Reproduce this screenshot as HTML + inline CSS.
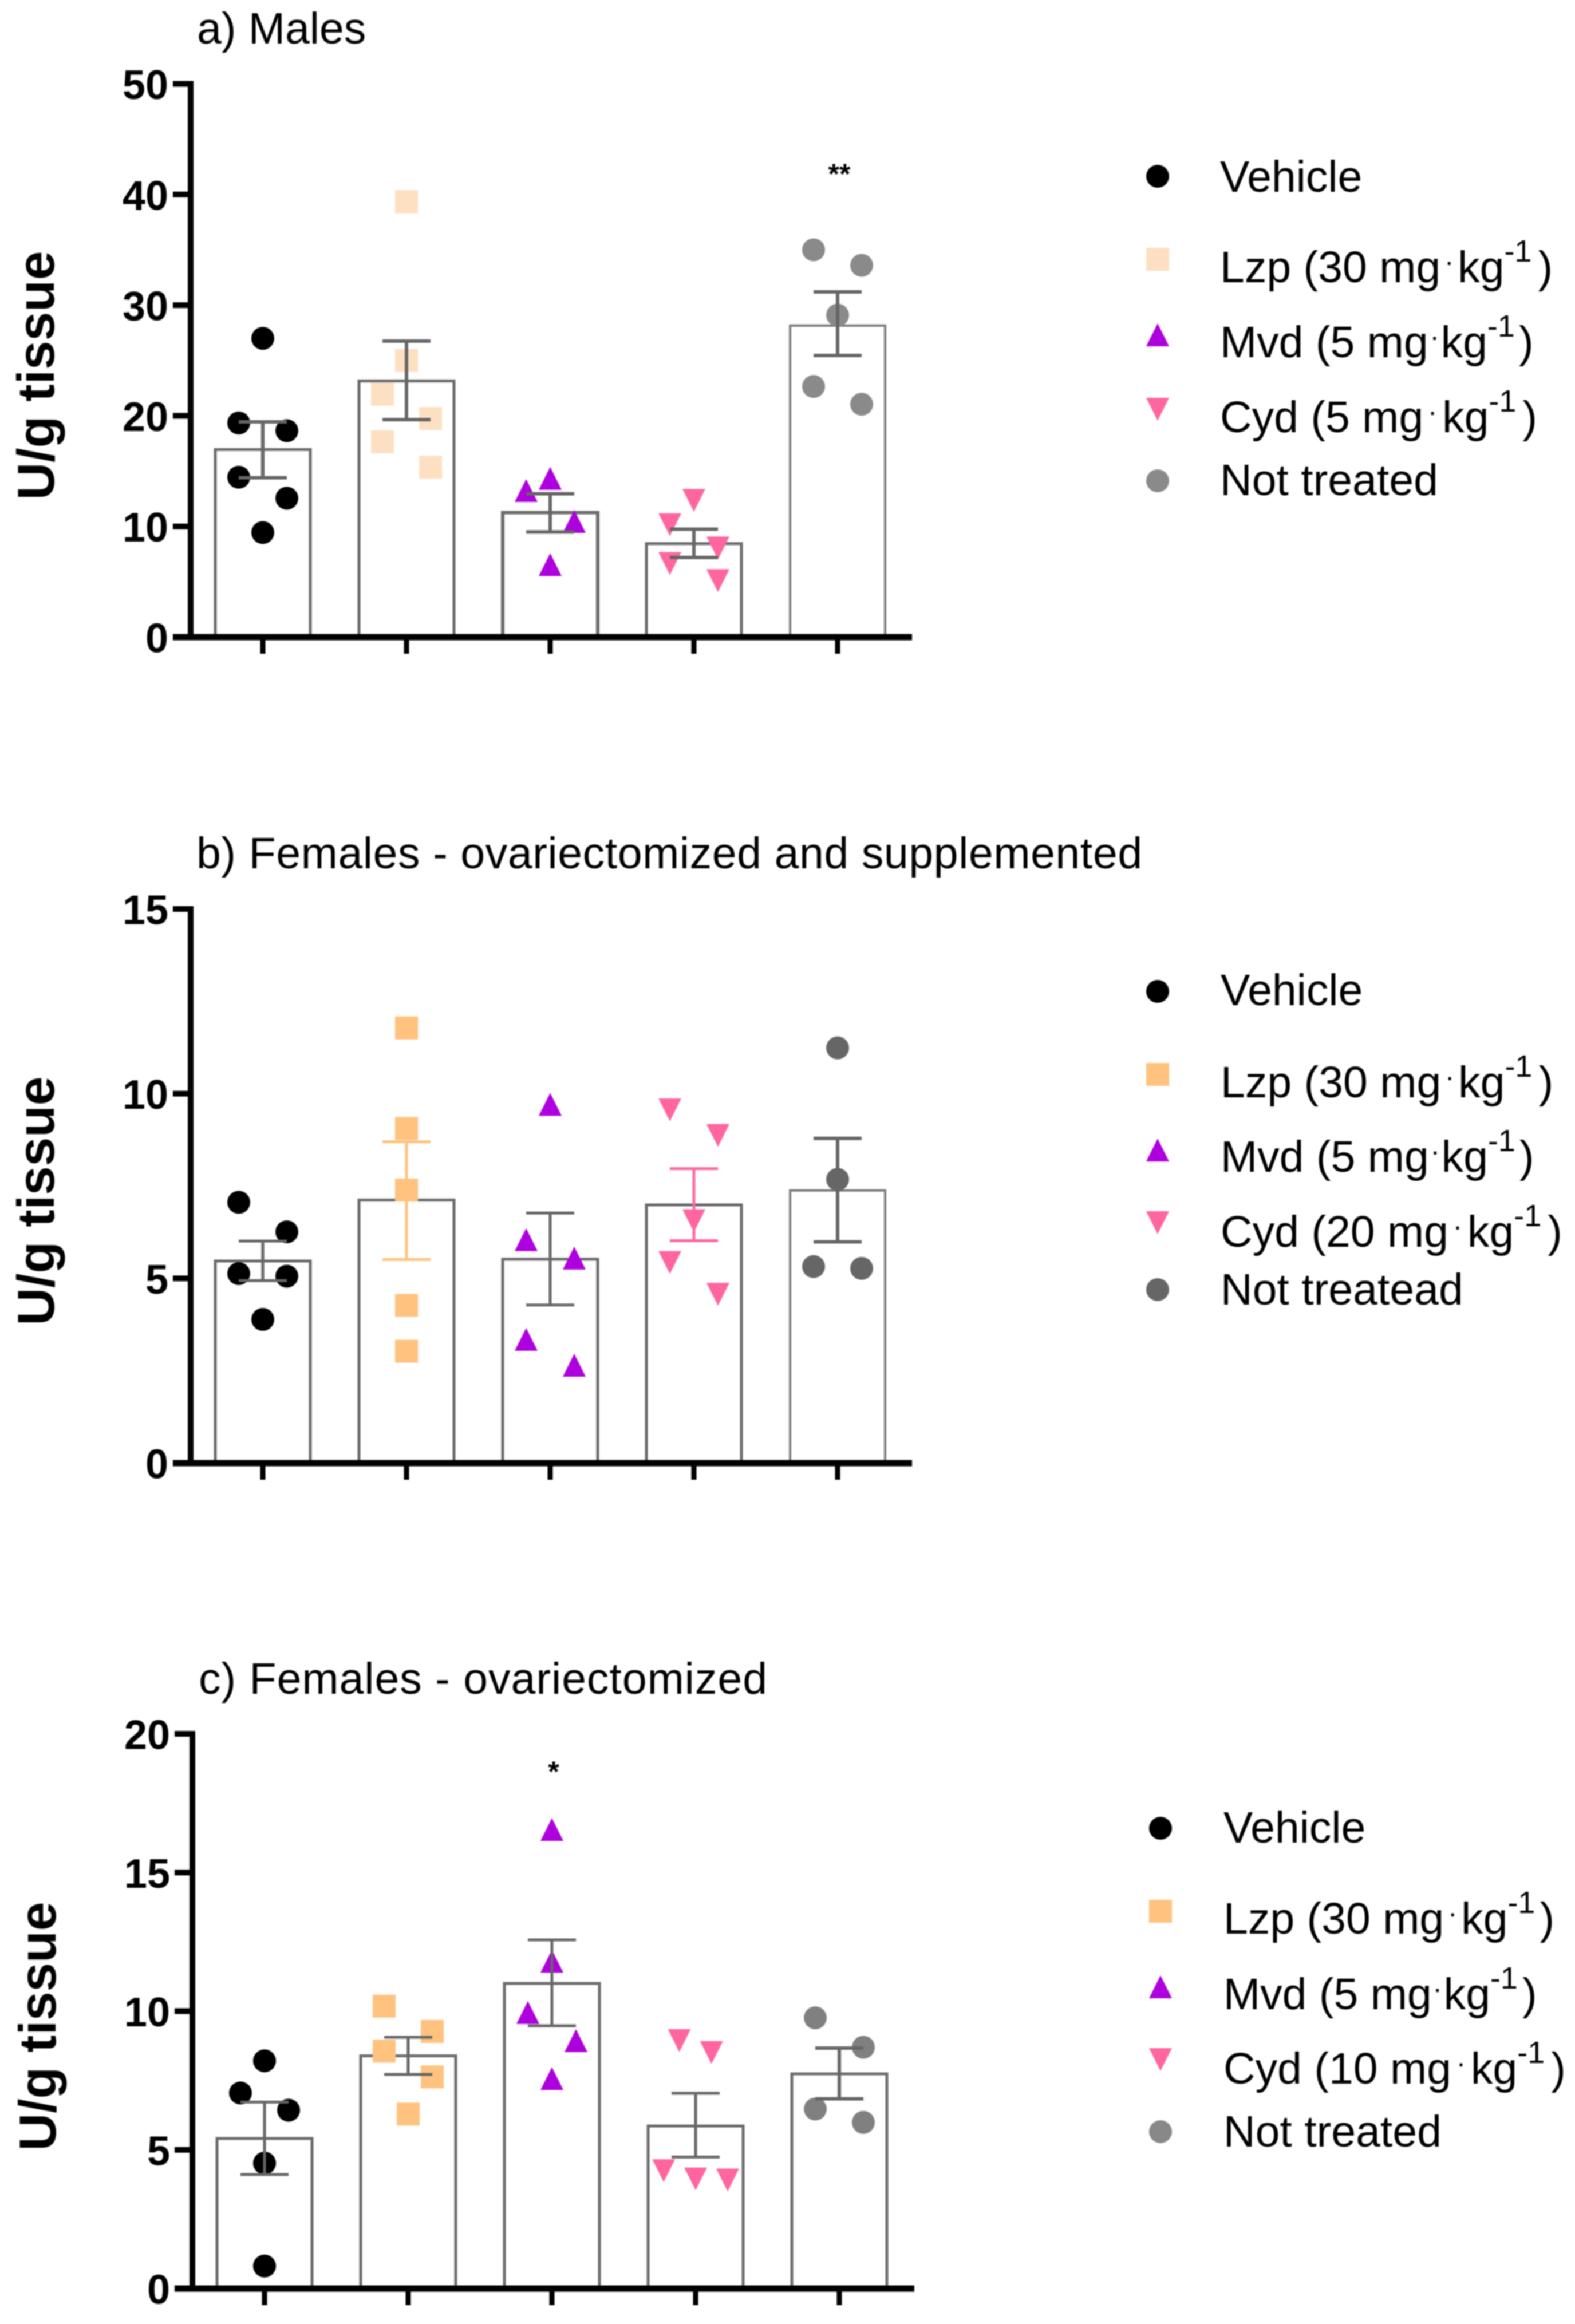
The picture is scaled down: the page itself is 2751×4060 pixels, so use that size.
<!DOCTYPE html>
<html lang="en">
<head>
<meta charset="utf-8">
<title>Enzyme activity by treatment</title>
<style>
html,body{margin:0;padding:0;background:#fff;}
svg{display:block;filter:blur(1px);}
text{font-family:"Liberation Sans",Arial,sans-serif;fill:#000;}
.title{font-size:77px;}
.legend{font-size:77px;}
.tick{font-size:72px;font-weight:bold;text-anchor:end;}
.ytitle{font-size:91px;font-weight:bold;text-anchor:middle;}
.star{font-size:50px;font-weight:bold;text-anchor:middle;}
</style>
</head>
<body>
<svg id="chart" xmlns="http://www.w3.org/2000/svg" width="2751" height="4060" viewBox="0 0 2751 4060">
  <rect x="0" y="0" width="2751" height="4060" fill="#fff"/>

  <text class="title" x="344" y="76">a) Males</text>
  <text class="title" x="343" y="1517" letter-spacing="0.6">b) Females - ovariectomized and supplemented</text>
  <text class="title" x="347" y="2959" letter-spacing="1">c) Females - ovariectomized</text>

  <g>
    <circle cx="2022" cy="308" r="20" fill="#000"/>
    <text class="legend" x="2131" y="335">Vehicle</text>
    <rect x="2002" y="433" width="40" height="40" fill="#fde0c2"/>
    <text class="legend" x="2131" y="493">Lzp (30 mg<tspan dy="-30" dx="8" font-size="50">.</tspan><tspan dy="30" dx="8">kg</tspan><tspan dy="-36" font-size="54">-1</tspan><tspan dy="36" dx="11">)</tspan></text>
    <polygon points="2022,565 2042,605 2002,605" fill="#ae00de"/>
    <text class="legend" x="2131" y="624">Mvd (5 mg<tspan dy="-30" dx="4" font-size="50">.</tspan><tspan dy="30" dx="4">kg</tspan><tspan dy="-36" font-size="54">-1</tspan><tspan dy="36" dx="7">)</tspan></text>
    <polygon points="2002,695 2042,695 2022,735" fill="#ff66a0"/>
    <text class="legend" x="2131" y="755">Cyd (5 mg<tspan dy="-30" dx="9" font-size="50">.</tspan><tspan dy="30" dx="10">kg</tspan><tspan dy="-36" font-size="54">-1</tspan><tspan dy="36" dx="11">)</tspan></text>
    <circle cx="2022" cy="840" r="20" fill="#8a8a8a"/>
    <text class="legend" x="2131" y="865">Not treated</text>
  </g>

  <g>
    <circle cx="2022" cy="1732" r="20" fill="#000"/>
    <text class="legend" x="2132" y="1756">Vehicle</text>
    <rect x="2002" y="1857" width="40" height="40" fill="#ffc27f"/>
    <text class="legend" x="2132" y="1917">Lzp (30 mg<tspan dy="-30" dx="8" font-size="50">.</tspan><tspan dy="30" dx="8">kg</tspan><tspan dy="-36" font-size="54">-1</tspan><tspan dy="36" dx="11">)</tspan></text>
    <polygon points="2022,1989 2042,2029 2002,2029" fill="#ae00de"/>
    <text class="legend" x="2132" y="2047">Mvd (5 mg<tspan dy="-30" dx="4" font-size="50">.</tspan><tspan dy="30" dx="4">kg</tspan><tspan dy="-36" font-size="54">-1</tspan><tspan dy="36" dx="7">)</tspan></text>
    <polygon points="2002,2116 2042,2116 2022,2156" fill="#ff66a0"/>
    <text class="legend" x="2132" y="2178">Cyd (20 mg<tspan dy="-30" dx="9" font-size="50">.</tspan><tspan dy="30" dx="10">kg</tspan><tspan dy="-36" font-size="54">-1</tspan><tspan dy="36" dx="11">)</tspan></text>
    <circle cx="2022" cy="2253" r="20" fill="#666"/>
    <text class="legend" x="2132" y="2279">Not treatead</text>
  </g>

  <g>
    <circle cx="2027" cy="3194" r="20" fill="#000"/>
    <text class="legend" x="2137" y="3219">Vehicle</text>
    <rect x="2007" y="3319" width="40" height="40" fill="#ffc27f"/>
    <text class="legend" x="2137" y="3378">Lzp (30 mg<tspan dy="-30" dx="8" font-size="50">.</tspan><tspan dy="30" dx="8">kg</tspan><tspan dy="-36" font-size="54">-1</tspan><tspan dy="36" dx="8">)</tspan></text>
    <polygon points="2027,3451 2047,3491 2007,3491" fill="#ae00de"/>
    <text class="legend" x="2137" y="3510">Mvd (5 mg<tspan dy="-30" dx="3" font-size="50">.</tspan><tspan dy="30" dx="4">kg</tspan><tspan dy="-36" font-size="54">-1</tspan><tspan dy="36" dx="8">)</tspan></text>
    <polygon points="2007,3578 2047,3578 2027,3618" fill="#ff66a0"/>
    <text class="legend" x="2137" y="3640">Cyd (10 mg<tspan dy="-30" dx="10" font-size="50">.</tspan><tspan dy="30" dx="10">kg</tspan><tspan dy="-36" font-size="54">-1</tspan><tspan dy="36" dx="11">)</tspan></text>
    <circle cx="2027" cy="3724" r="20" fill="#888"/>
    <text class="legend" x="2137" y="3750">Not treated</text>
  </g>
</svg>

<script>
// ---- Data ----
const categories = ['vehicle', 'lzp', 'mvd', 'cyd', 'not-treated'];
const markerShapes = ['circle', 'square', 'up', 'down', 'circle'];

const maleTicks = [0, 10, 20, 30, 40, 50];
const maleMeans = [16.95, 23.15, 11.25, 8.45, 28.15];
const maleErrLow = [14.4, 19.65, 9.5, 7.2, 25.45];
const maleErrHigh = [19.45, 26.75, 12.95, 9.75, 31.2];
const malePoints = [
  [27.0, 19.35, 18.65, 14.45, 12.55, 9.45],
  [39.35, 25.0, 21.95, 19.75, 17.65, 15.35],
  [14.35, 13.25, 10.45, 6.55],
  [12.35, 10.15, 8.05, 6.65, 5.1],
  [35.0, 33.6, 29.1, 22.65, 21.05]
];
const maleSwarm = [
  [0, -1, 1, -1, 1, 0],
  [0, 0, -1, 1, -1, 1],
  [0, -1, 1, 0],
  [0, -1, 1, -1, 1],
  [-1, 1, 0, -1, 1]
];
const maleStars = ['', '', '', '', '**'];
const maleStarLevel = [0, 0, 0, 0, 42];

const ovxSuppTicks = [0, 5, 10, 15];
const ovxSuppMeans = [5.47, 7.12, 5.52, 6.99, 7.38];
const ovxSuppErrLow = [4.94, 5.51, 4.28, 6.02, 5.99];
const ovxSuppErrHigh = [6.01, 8.7, 6.77, 7.97, 8.79];
const ovxSuppPoints = [
  [7.06, 6.26, 5.13, 5.06, 3.89],
  [11.78, 9.06, 7.39, 4.27, 3.03],
  [9.71, 6.05, 5.55, 3.35, 2.65],
  [9.56, 8.87, 6.56, 5.43, 4.57],
  [11.24, 7.68, 5.32, 5.27]
];
const ovxSuppSwarm = [
  [-1, 1, -1, 1, 0],
  [0, 0, 0, 0, 0],
  [0, -1, 1, -1, 1],
  [-1, 1, 0, -1, 1],
  [0, 0, -1, 1]
];
const ovxSuppStars = ['', '', '', '', ''];
const ovxSuppStarLevel = [0, 0, 0, 0, 0];

const ovxTicks = [0, 5, 10, 15, 20];
const ovxMeans = [5.41, 8.39, 11.0, 5.86, 7.74];
const ovxErrLow = [4.11, 7.72, 9.47, 4.74, 6.84];
const ovxErrHigh = [6.72, 9.06, 12.57, 7.04, 8.67];
const ovxPoints = [
  [8.21, 7.05, 6.43, 4.52, 0.81],
  [10.18, 9.27, 8.56, 7.63, 6.29],
  [16.55, 11.8, 9.95, 8.94, 7.57],
  [8.94, 8.51, 4.25, 3.95, 3.91],
  [9.76, 8.7, 6.47, 5.99]
];
const ovxSwarm = [
  [0, -1, 1, 0, 0],
  [-1, 1, -1, 1, 0],
  [0, 0, -1, 1, 0],
  [-0.68, 0.66, -1.33, 0, 1.33],
  [-1, 1, -1, 1]
];
const ovxStars = ['', '', '*', '', ''];
const ovxStarLevel = [0, 0, 18.7, 0, 0];

// ---- Drawing ----
const NS = 'http://www.w3.org/2000/svg';
const svg = document.getElementById('chart');

function make(parent, tag, attrs, text) {
  const el = document.createElementNS(NS, tag);
  for (const k in attrs) el.setAttribute(k, attrs[k]);
  if (text !== undefined) el.textContent = text;
  parent.appendChild(el);
  return el;
}

function drawPanel(p) {
  const yScale = v => p.yBase - (v / p.yMax) * (p.yBase - p.yTop);
  const xScale = i => p.xFirst + i * p.xStep;

  const root = make(svg, 'g', {});
  
  

  p.means.forEach((m, i) => {
    const w = p.barWidth;
    const bar = make(root, 'rect', {
      x: xScale(i) - w / 2, y: yScale(m), width: w, height: yScale(0) - yScale(m),
      fill: '#fff', stroke: p.barStroke[i], 'stroke-width': p.barLine[i]
    });
    
    
  });

  p.points.forEach((series, i) => {
    series.forEach((v, j) => {
      const cx = xScale(i) + p.swarm[i][j] * p.swarmStep;
      const cy = yScale(v);
      const r = 20;
      const shape = markerShapes[i];
      const fill = p.pointColors[i];
      let mark;
      if (shape === 'circle') {
        mark = make(root, 'circle', { cx: cx, cy: cy, r: r, fill: fill });
      } else if (shape === 'square') {
        mark = make(root, 'rect', { x: cx - r, y: cy - r, width: 2 * r, height: 2 * r, fill: fill });
      } else if (shape === 'up') {
        mark = make(root, 'polygon', { points: [cx, cy - r, cx + r, cy + r, cx - r, cy + r].join(' '), fill: fill });
      } else {
        mark = make(root, 'polygon', { points: [cx - r, cy - r, cx + r, cy - r, cx, cy + r].join(' '), fill: fill });
      }
      
      
    });
  });

  p.means.forEach((m, i) => {
    const x = xScale(i);
    const cap = 42;
    const g = make(root, 'g', { stroke: p.errColors[i], 'stroke-width': p.errLine[i], fill: 'none' });
    
    
    make(g, 'line', { x1: x, x2: x, y1: yScale(p.errLow[i]), y2: yScale(p.errHigh[i]) });
    make(g, 'line', { x1: x - cap, x2: x + cap, y1: yScale(p.errLow[i]), y2: yScale(p.errLow[i]) });
    make(g, 'line', { x1: x - cap, x2: x + cap, y1: yScale(p.errHigh[i]), y2: yScale(p.errHigh[i]) });
  });

  p.stars.forEach((s, i) => {
    if (!s) return;
    const star = make(root, 'text', { class: 'star', x: xScale(i) + 3, y: yScale(p.starLevel[i]) + 20 }, s);
    
    
  });

  const yAxis = make(root, 'line', {
    x1: p.axisX, x2: p.axisX, y1: yScale(p.yMax) - 5, y2: yScale(0) + 5, stroke: '#000', 'stroke-width': 10
  });
  
  

  const xAxis = make(root, 'line', {
    x1: p.axisX - 31, x2: p.xAxisEnd, y1: yScale(0), y2: yScale(0), stroke: '#000', 'stroke-width': 11
  });
  
  

  p.ticks.forEach(t => {
    const tick = make(root, 'line', {
      x1: p.axisX - 31, x2: p.axisX, y1: yScale(t), y2: yScale(t), stroke: '#000', 'stroke-width': 10
    });
    
    
    const label = make(root, 'text', { class: 'tick', x: p.axisX - 39, y: yScale(t) + 26.5 }, String(t));
    
    
  });

  categories.forEach((c, i) => {
    const tick = make(root, 'line', {
      x1: xScale(i), x2: xScale(i), y1: yScale(0), y2: yScale(0) + 29, stroke: '#000', 'stroke-width': 9
    });
    
    
  });

  const title = make(root, 'text', {
    class: 'ytitle', x: 0, y: 0, transform: 'translate(' + p.titleX + ',' + p.titleY + ') rotate(-90)'
  }, 'U/g tissue');
  
  
}

drawPanel({
  id: 'a', yTop: 146.5, yBase: 1113, yMax: 50, axisX: 333, xAxisEnd: 1593,
  xFirst: 459, xStep: 251, barWidth: 166, swarmStep: 42,
  titleX: 94, titleY: 656,
  ticks: maleTicks, means: maleMeans, errLow: maleErrLow, errHigh: maleErrHigh,
  points: malePoints, swarm: maleSwarm, stars: maleStars, starLevel: maleStarLevel,
  pointColors: ['#000', '#fde0c2', '#ae00de', '#ff66a0', '#8a8a8a'],
  errColors: ['#666', '#666', '#666', '#666', '#666'],
  errLine: [6, 6, 6, 6, 6],
  barStroke: ['#6b6b6b', '#6b6b6b', '#6b6b6b', '#6b6b6b', '#7a7a7a'],
  barLine: [5, 5, 6, 5, 4]
});

drawPanel({
  id: 'b', yTop: 1588, yBase: 2556, yMax: 15, axisX: 333, xAxisEnd: 1593,
  xFirst: 459, xStep: 251, barWidth: 166, swarmStep: 42,
  titleX: 94, titleY: 2098,
  ticks: ovxSuppTicks, means: ovxSuppMeans, errLow: ovxSuppErrLow, errHigh: ovxSuppErrHigh,
  points: ovxSuppPoints, swarm: ovxSuppSwarm, stars: ovxSuppStars, starLevel: ovxSuppStarLevel,
  pointColors: ['#000', '#ffc27f', '#ae00de', '#ff66a0', '#666'],
  errColors: ['#666', '#ffc27f', '#666', '#ff66a0', '#666'],
  errLine: [5, 5, 5, 5, 6],
  barStroke: ['#6b6b6b', '#6b6b6b', '#6b6b6b', '#6b6b6b', '#7a7a7a'],
  barLine: [5, 5, 5, 5, 4]
});

drawPanel({
  id: 'c', yTop: 3029, yBase: 3998, yMax: 20, axisX: 336, xAxisEnd: 1597,
  xFirst: 462, xStep: 251, barWidth: 166, swarmStep: 42,
  titleX: 97, titleY: 3540,
  ticks: ovxTicks, means: ovxMeans, errLow: ovxErrLow, errHigh: ovxErrHigh,
  points: ovxPoints, swarm: ovxSwarm, stars: ovxStars, starLevel: ovxStarLevel,
  pointColors: ['#000', '#ffc27f', '#ae00de', '#ff66a0', '#808080'],
  errColors: ['#666', '#666', '#666', '#666', '#666'],
  errLine: [5, 5, 5, 5, 6],
  barStroke: ['#6b6b6b', '#6b6b6b', '#6b6b6b', '#6b6b6b', '#6b6b6b'],
  barLine: [5, 5, 5, 5, 5]
});
</script>
</body>
</html>
